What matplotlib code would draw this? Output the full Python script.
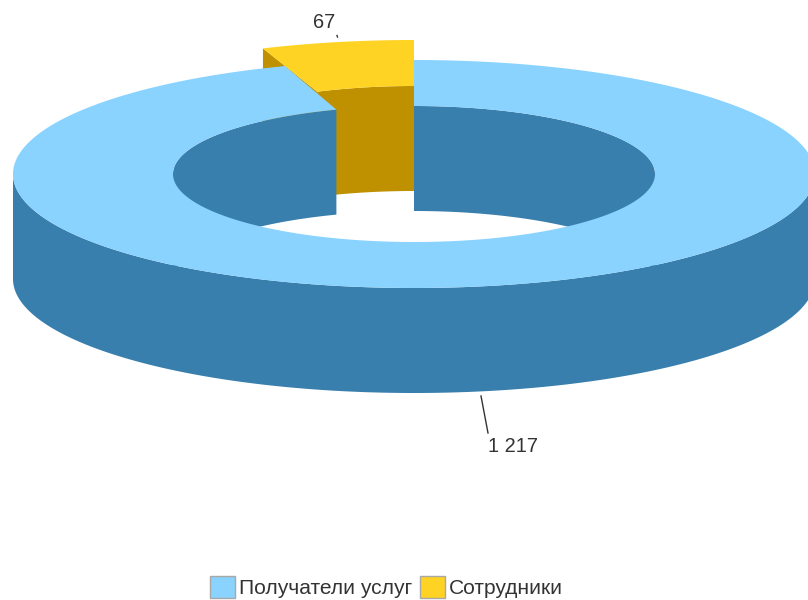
"""3D style donut chart: service recipients vs staff."""

import numpy as np
from matplotlib import pyplot as plt
from matplotlib.patches import Patch

categories = ["Получатели услуг", "Сотрудники"]
values = [1217, 67]
value_labels = ["1 217", "67"]
top_colors = ["#8AD3FF", "#FFD324"]
side_colors = ["#387FAD", "#BF9000"]

plt.rcParams["font.family"] = ["Liberation Sans", "DejaVu Sans"]

# ring geometry, in pixels
cx, cy = 414, 174
rx_out, ry_out = 401, 114
rx_in, ry_in = 241, 68
depth = 105
lift = 20          # how far the small slice is pulled out
# the pulled slice is drawn a bit wider than its share
stretch_out = 1.178
stretch_in = 1.26


def ring_pts(t, rx, ry, dy=0):
    # t in degrees, 0 = 12 o'clock, clockwise
    t = np.radians(t)
    return np.column_stack([cx + rx * np.sin(t), cy + dy - ry * np.cos(t)])


def arc(a, b, n=200):
    return np.linspace(a, b, n)


fig = plt.figure(figsize=(8.08, 6), dpi=100)
ax = fig.add_axes([0, 0, 1, 1])
ax.set_xlim(0, 808)
ax.set_ylim(600, 0)
ax.axis("off")

sweep = 360 * values[1] / sum(values)
gap_start = 360 - sweep

# small slice, pulled upward
t_o = arc(-sweep * stretch_out, 0)
t_i = arc(-sweep * stretch_in, 0)
o_top = ring_pts(t_o, rx_out, ry_out, -lift)
i_top = ring_pts(t_i, rx_in, ry_in, -lift)
i_bot = ring_pts(t_i, rx_in, ry_in, depth - lift)
o_bot = ring_pts(t_o, rx_out, ry_out, depth - lift)
left_wall = np.vstack([o_top[:1], i_top[:1], i_bot[:1], o_bot[:1]])
ax.fill(left_wall[:, 0], left_wall[:, 1], color=side_colors[1], lw=0, zorder=1)
inner_wall = np.vstack([i_top, i_bot[::-1]])
ax.fill(inner_wall[:, 0], inner_wall[:, 1], color=side_colors[1], lw=0, zorder=1)
top = np.vstack([o_top, i_top[::-1]])
ax.fill(top[:, 0], top[:, 1], color=top_colors[1], lw=0, zorder=2)

# back wall of the hole, either side of the gap, hides the slice's left wall
for a, b in [(-90, -sweep), (0, 90)]:
    t = arc(a, b)
    wall = np.vstack([ring_pts(t, rx_in, ry_in), ring_pts(t[::-1], rx_in, ry_in, depth)])
    ax.fill(wall[:, 0], wall[:, 1], color=side_colors[0], lw=0, zorder=3)

# front outer wall of the big slice
t = arc(90, 270)
wall = np.vstack([ring_pts(t, rx_out, ry_out), ring_pts(t[::-1], rx_out, ry_out, depth)])
ax.fill(wall[:, 0], wall[:, 1], color=side_colors[0], lw=0, zorder=4)

# top face of the big slice
t = arc(0, gap_start, 600)
top = np.vstack([ring_pts(t, rx_out, ry_out), ring_pts(t[::-1], rx_in, ry_in)])
ax.fill(top[:, 0], top[:, 1], color=top_colors[0], lw=0, zorder=5)

# labels with leader lines
ax.plot([481, 488], [396, 433], color="#333333", lw=1, zorder=6)
ax.text(513, 446, value_labels[0], ha="center", va="center", fontsize=14.4, color="#333333")
ax.plot([337, 337.5], [35.5, 37], color="#333333", lw=1, zorder=6)
ax.text(324, 22, value_labels[1], ha="center", va="center", fontsize=14.4, color="#333333")

handles = [Patch(facecolor=c, edgecolor="#A8A8A8", lw=1) for c in top_colors]
ax.legend(handles, categories, loc="lower left", bbox_to_anchor=(210 / 808, 0.003), ncols=2,
          frameon=False, fontsize=15.1, labelcolor="#333333", handlelength=1.2, handleheight=1.2,
          handletextpad=0.2, columnspacing=0.35, borderpad=0, borderaxespad=0)

fig.savefig("out.png", dpi=100)
